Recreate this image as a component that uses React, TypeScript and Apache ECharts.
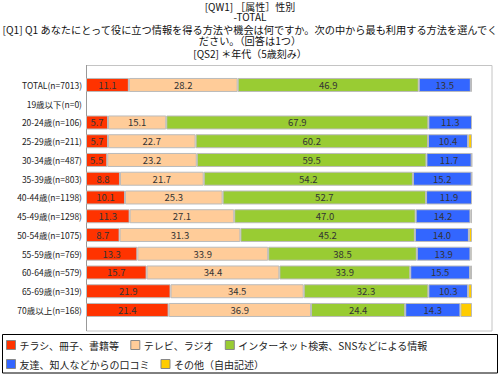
import React, { useEffect, useRef } from "react";
import * as echarts from "echarts";

const categories = [
  "TOTAL(n=7013)",
  "19歳以下(n=0)",
  "20-24歳(n=106)",
  "25-29歳(n=211)",
  "30-34歳(n=487)",
  "35-39歳(n=803)",
  "40-44歳(n=1198)",
  "45-49歳(n=1298)",
  "50-54歳(n=1075)",
  "55-59歳(n=769)",
  "60-64歳(n=579)",
  "65-69歳(n=319)",
  "70歳以上(n=168)",
];

const seriesNames = [
  "チラシ、冊子、書籍等",
  "テレビ、ラジオ",
  "インターネット検索、SNSなどによる情報",
  "友達、知人などからの口コミ",
  "その他（自由記述）",
];

const flyers = [11.1, 0, 5.7, 5.7, 5.5, 8.8, 10.1, 11.3, 8.7, 13.3, 15.7, 21.9, 21.4];
const tvRadio = [28.2, 0, 15.1, 22.7, 23.2, 21.7, 25.3, 27.1, 31.3, 33.9, 34.4, 34.5, 36.9];
const internet = [46.9, 0, 67.9, 60.2, 59.5, 54.2, 52.7, 47.0, 45.2, 38.5, 33.9, 32.3, 24.4];
const wordOfMouth = [13.5, 0, 11.3, 10.4, 11.7, 15.2, 11.9, 14.2, 14.0, 13.9, 15.5, 10.3, 14.3];
const other = [0.3, 0, 0, 1.0, 0.1, 0.1, 0, 0.4, 0.8, 0.3, 0.5, 1.0, 3.0];

const colors = ["#FF3300", "#FFCC99", "#99CC33", "#3366FF", "#FFCC00"];

const titleLines = [
  "[QW1] ［属性］性別",
  "-TOTAL",
  "[Q1] Q1 あなたにとって役に立つ情報を得る方法や機会は何ですか。次の中から最も利用する方法を選んでく",
  "ださい。（回答は1つ）",
  "[QS2] ＊年代（5歳刻み）",
];
const titleY = [6.5, 16.8, 29.5, 40.7, 53.5];
const titleSize = [10, 10, 10.2, 10.2, 10];

export default function App() {
  const ref = useRef<HTMLDivElement>(null);
  useEffect(() => {
    if (!ref.current) return;
    const chart = echarts.init(ref.current, null, { renderer: "svg" });
    const font = "'Noto Sans CJK JP', sans-serif";
    const allData = [flyers, tvRadio, internet, wordOfMouth, other];
    const series = allData.map((arr, i) => ({
      name: seriesNames[i],
      type: "bar",
      stack: "total",
      barWidth: 14,
      data: arr.map((v) => (v === 0 ? null : v)),
      itemStyle: { color: colors[i], borderColor: "#bbbbbb", borderWidth: 1 },
      label: {
        show: i < 4,
        position: "inside",
        color: "#333",
        fontSize: 9.5,
        fontFamily: font,
        formatter: (p: any) => (p.value ? Number(p.value).toFixed(1) : ""),
      },
    }));
    chart.setOption({
      animation: false,
      textStyle: { fontFamily: font },
      grid: { left: 86, width: 386, top: 75.6, height: 243.75 },
      xAxis: { type: "value", min: 0, max: 100, show: false },
      yAxis: {
        type: "category",
        data: categories,
        inverse: true,
        axisLine: { show: false },
        axisTick: { show: false },
        axisLabel: { fontSize: 8.5, color: "#222", margin: 4, fontFamily: font },
      },
      legend: {
        left: 6,
        top: 340,
        width: 440,
        padding: 0,
        itemWidth: 9,
        itemHeight: 9,
        itemGap: 9,
        icon: "rect",
        itemStyle: { borderColor: "#888", borderWidth: 1 },
        textStyle: {
          fontSize: 10,
          lineHeight: 10,
          color: "#222",
          fontFamily: font,
          padding: [0, 2, 0, -1],
        },
        data: seriesNames,
      },
      graphic: [
        {
          type: "rect",
          shape: { x: 86.5, y: 65.5, width: 405.5, height: 265.5 },
          style: { fill: "none", stroke: "#c4c4c4", lineWidth: 1 },
          z: -1,
        },
        {
          type: "line",
          shape: { x1: 86.5, y1: 65, x2: 86.5, y2: 331 },
          style: { stroke: "#999", lineWidth: 1 },
        },
        {
          type: "rect",
          shape: { x: 2.5, y: 334.5, width: 495, height: 38.5 },
          style: { fill: "none", stroke: "#000", lineWidth: 1 },
        },
        ...titleLines.map((t, i) => ({
          type: "text",
          x: 250,
          y: titleY[i],
          style: {
            text: t,
            fontSize: titleSize[i],
            lineHeight: 10,
            fontFamily: font,
            fill: "#111",
            textAlign: "center",
            textVerticalAlign: "middle",
          },
        })),
      ],
      series,
    });
    return () => chart.dispose();
  }, []);
  return <div ref={ref} style={{ width: 500, height: 375, position: "absolute", left: 0, top: 0 }} />;
}
